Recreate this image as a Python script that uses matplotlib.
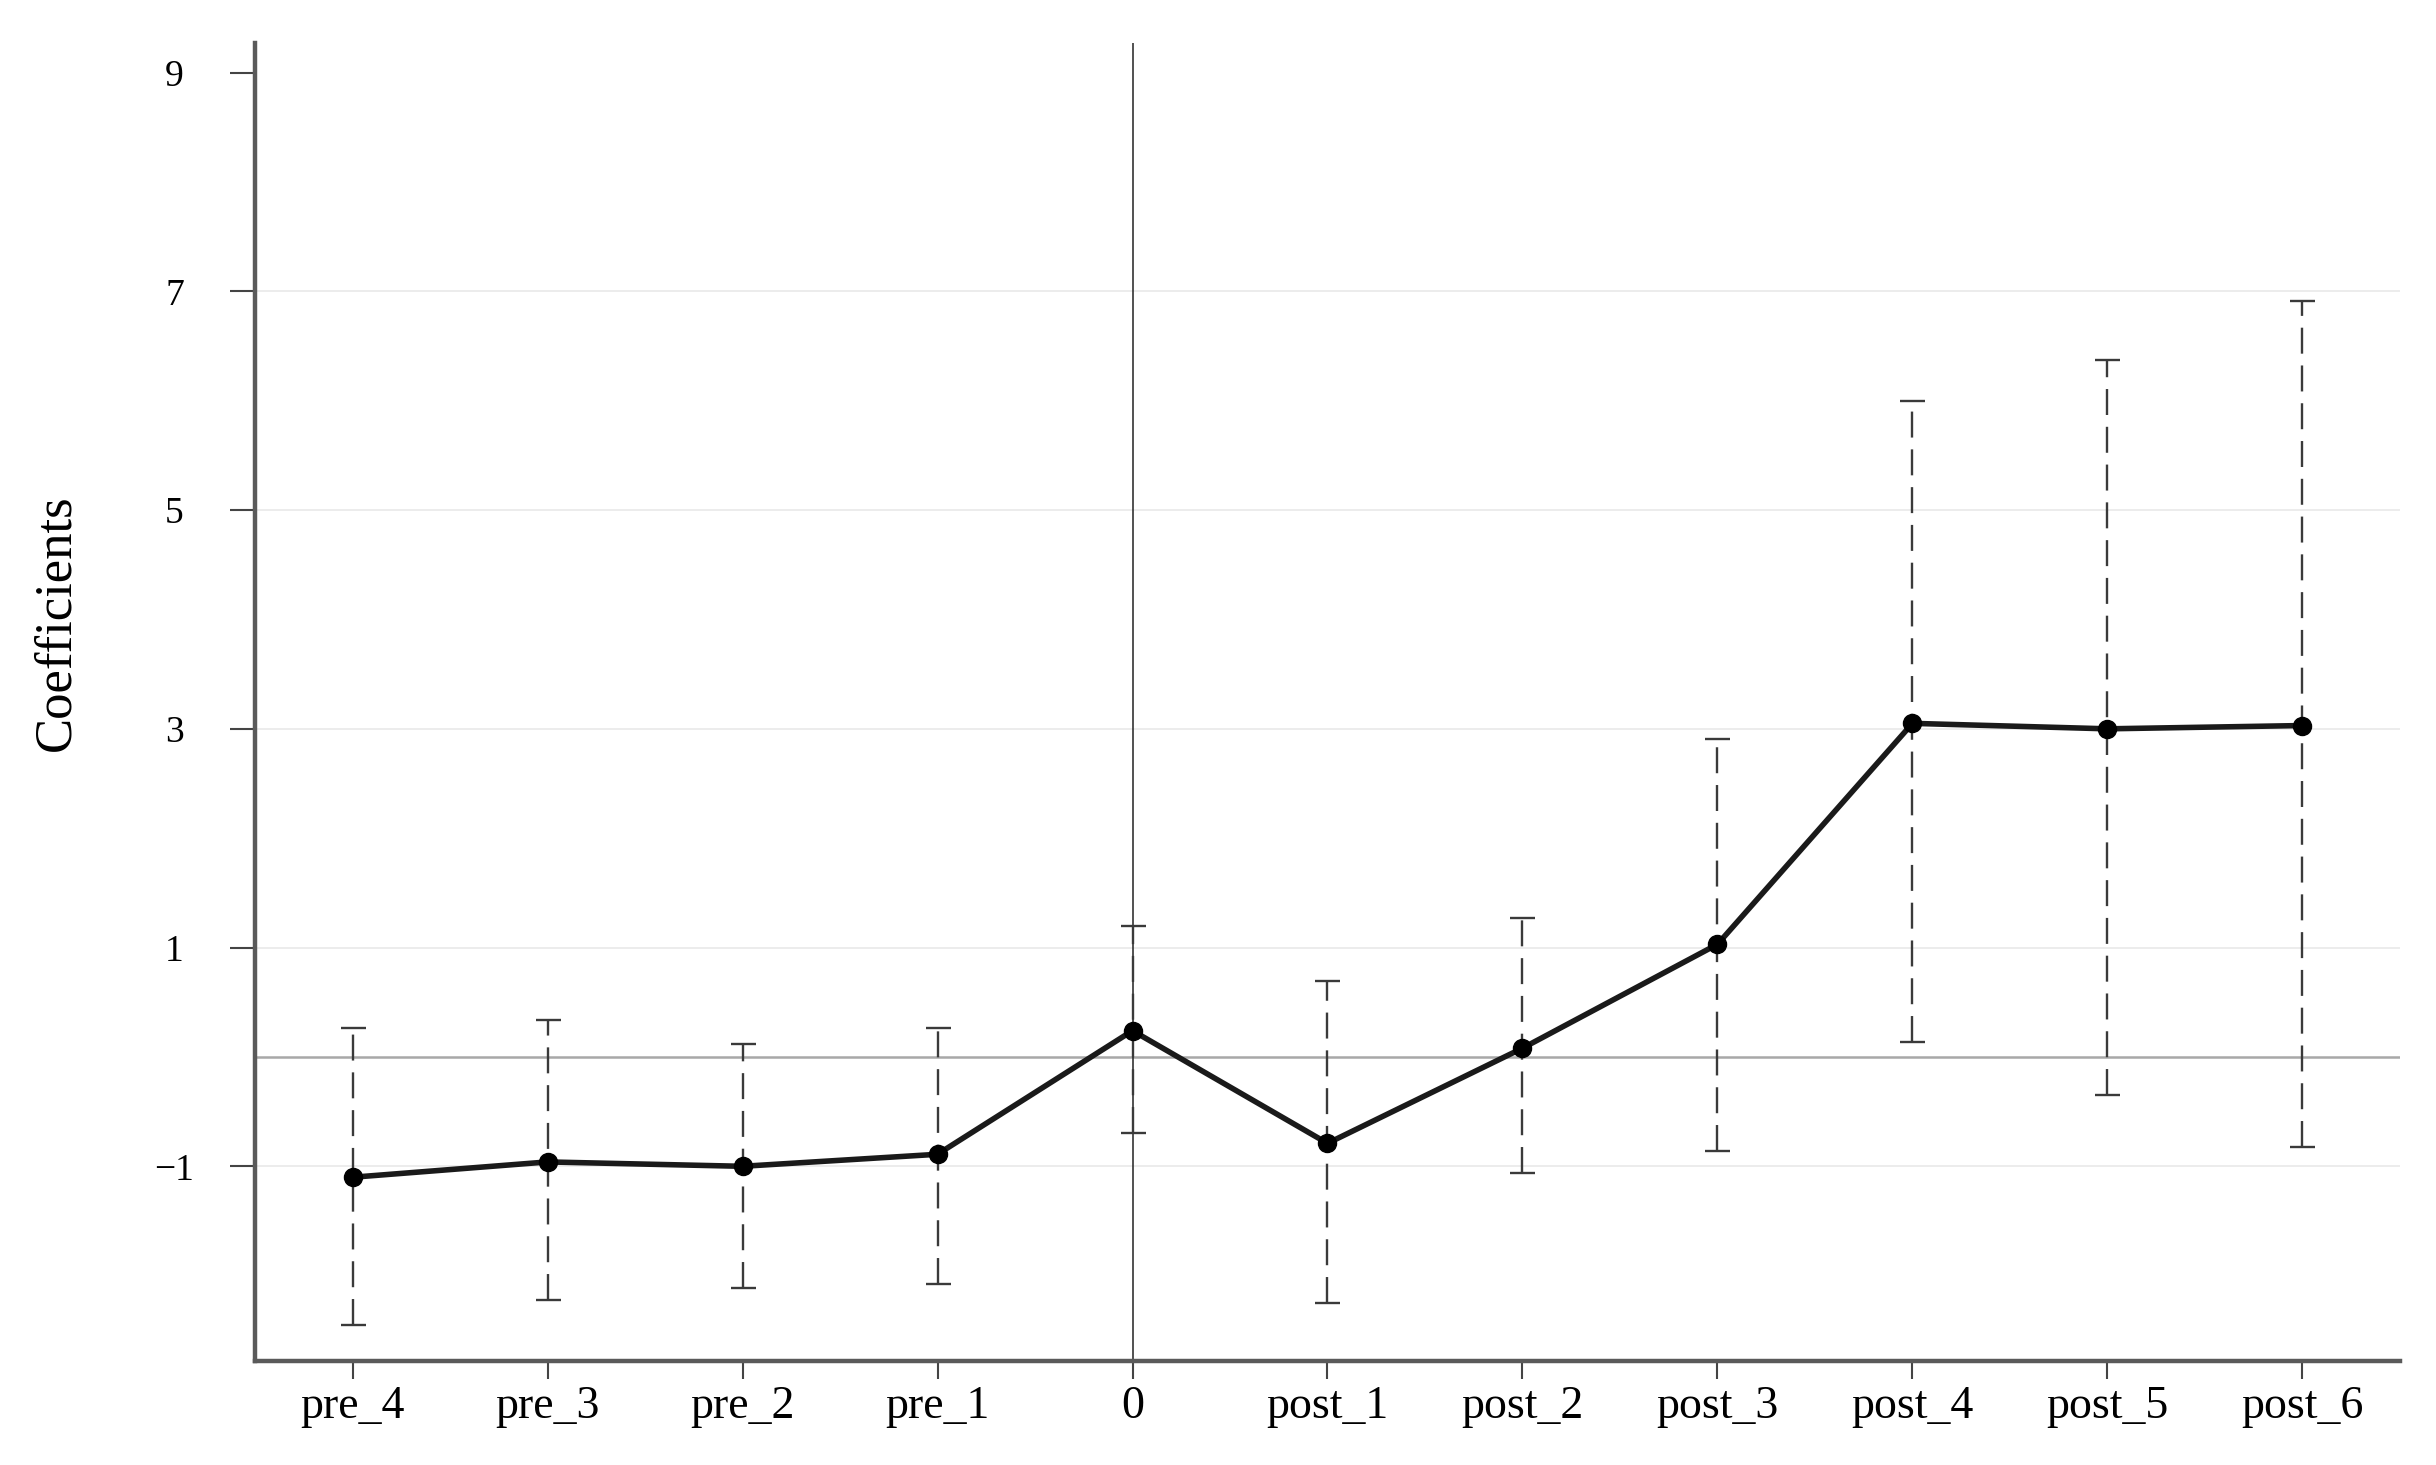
import matplotlib
matplotlib.use("Agg")
import matplotlib.pyplot as plt
import numpy as np

categories = ["pre_4", "pre_3", "pre_2", "pre_1", "0", "post_1", "post_2",
              "post_3", "post_4", "post_5", "post_6"]
coef = [-1.10, -0.96, -1.00, -0.89, 0.24, -0.79, 0.08, 1.03, 3.05, 3.00, 3.03]
upper = [0.26, 0.34, 0.12, 0.26, 1.20, 0.69, 1.27, 2.91, 6.00, 6.37, 6.91]
lower = [-2.45, -2.22, -2.11, -2.08, -0.70, -2.25, -1.06, -0.86, 0.14, -0.35, -0.82]
yticks = [-1, 1, 3, 5, 7, 9]
gridlines = [-1, 1, 3, 5, 7]

plt.rcParams['font.family'] = ['Liberation Serif', 'DejaVu Serif']

fig = plt.figure(figsize=(24.36, 14.65), dpi=100)
ax = fig.add_axes([0.1047, 0.071, 0.8805, 0.8996])

x = np.arange(len(categories))
coef_a = np.array(coef)
yerr = np.vstack([coef_a - np.array(lower), np.array(upper) - coef_a])

ax.set_xlim(-0.5, 10.5)
ax.set_ylim(-2.78, 9.27)

for yv in gridlines:
    ax.axhline(yv, color="#eaeaea", lw=1.3, zorder=0)
ax.axhline(0, color="#a8a8a8", lw=1.8, zorder=1)
ax.axvline(4, color="#222222", lw=1.1, zorder=1)

eb = ax.errorbar(x, coef_a, yerr=yerr, fmt="none", ecolor="#3a3a3a",
                 elinewidth=1.7, capsize=9, capthick=1.7, zorder=2)
for lc in eb[2]:
    lc.set_linestyle((0, (11, 5)))

ax.plot(x, coef_a, color="#1a1a1a", lw=4, marker="o", markersize=13,
        markerfacecolor="#000000", markeredgecolor="#000000", zorder=3)

ax.set_xticks(x)
ax.set_xticklabels(categories, fontsize=33)
ax.set_yticks(yticks)
ax.set_yticklabels([("\u2212" + str(-v)) if v < 0 else str(v) for v in yticks],
                   fontsize=27, ha="center")

for s in ["top", "right"]:
    ax.spines[s].set_visible(False)
for s in ["left", "bottom"]:
    ax.spines[s].set_color("#5a5a5a")
    ax.spines[s].set_linewidth(3.2)

ax.tick_params(axis="y", direction="out", length=18, width=1.5, color="#444444", pad=40)
ax.tick_params(axis="x", direction="out", length=13, width=1.5, color="#444444", pad=5)

ax.set_ylabel("Coefficients", fontsize=38)
ax.yaxis.set_label_coords(-0.0814, 0.56, transform=ax.transAxes)

fig.savefig("out.png", dpi=100, facecolor="white")
